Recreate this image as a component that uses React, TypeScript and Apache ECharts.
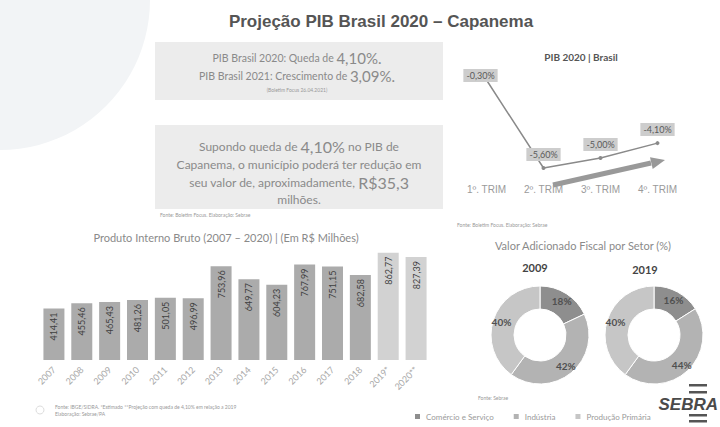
import React, { useEffect, useRef } from "react";
import * as echarts from "echarts";

const years = ["2007", "2008", "2009", "2010", "2011", "2012", "2013", "2014", "2015", "2016", "2017", "2018", "2019*", "2020**"];
const pibCapanema = [414.41, 455.46, 465.43, 481.26, 501.05, 496.99, 753.96, 649.77, 604.23, 767.99, 751.15, 682.58, 862.77, 827.39];
const quarters = ["1º. TRIM", "2º. TRIM", "3º. TRIM", "4º. TRIM"];
const pibBrasil2020 = [-0.3, -5.6, -5.0, -4.1];
const sectors = ["Comércio e Serviço", "Indústria", "Produção Primária"];
const vaf2009 = [18, 42, 40];
const vaf2019 = [16, 44, 40];

const sectorColors = ["#8e8e8e", "#b3b3b3", "#c6c6c6"];
const FONT = "Lato, 'Open Sans', sans-serif";
const br = (v: number) => v.toFixed(2).replace(".", ",");

export default function App() {
  const ref = useRef<HTMLDivElement>(null);
  useEffect(() => {
    if (!ref.current) return;
    const chart = echarts.init(ref.current, null, { renderer: "svg" });

    const pieData = (vals: number[]) =>
      vals.map((v, i) => ({ name: sectors[i], value: v, itemStyle: { color: sectorColors[i] } }));

    const richSmall = (size: number) => ({ fontSize: size, fill: "#8a8a8a", fontFamily: FONT });

    const option: any = {
      animation: false,
      backgroundColor: "#ffffff",
      textStyle: { fontFamily: FONT },
      grid: [
        { left: 40, right: 290, top: 248, bottom: 67, containLabel: false },
        { left: 458, right: 34, top: 75, bottom: 249, containLabel: false },
      ],
      xAxis: [
        {
          type: "category",
          gridIndex: 0,
          data: years,
          axisLine: { show: false },
          axisTick: { show: false },
          axisLabel: { rotate: 45, color: "#a8a8a8", fontSize: 9, fontFamily: FONT, margin: 8 },
        },
        {
          type: "category",
          gridIndex: 1,
          data: quarters,
          axisLine: { show: false },
          axisTick: { show: false },
          axisLabel: { color: "#9a9a9a", fontSize: 10, fontFamily: "'Liberation Sans', sans-serif", margin: 6 },
        },
      ],
      yAxis: [
        { type: "value", gridIndex: 0, min: 0, max: 900, show: false, splitLine: { show: false } },
        { type: "value", gridIndex: 1, min: -6.2, max: 0, show: false, splitLine: { show: false } },
      ],
      legend: {
        data: sectors,
        left: 408,
        top: 407,
        icon: "rect",
        itemWidth: 7,
        itemHeight: 7,
        itemGap: 18,
        textStyle: { color: "#9a9a9a", fontSize: 8, fontFamily: FONT },
      },
      series: [
        {
          type: "bar",
          xAxisIndex: 0,
          yAxisIndex: 0,
          barWidth: 21,
          data: pibCapanema.map((v, i) => ({
            value: v,
            itemStyle: { color: i >= 12 ? "#d2d2d2" : "#ababab" },
          })),
          label: {
            show: true,
            position: "insideTop",
            rotate: 90,
            align: "right",
            verticalAlign: "middle",
            distance: 4,
            color: "#3f3f3f",
            fontSize: 9,
            fontFamily: FONT,
            formatter: (p: any) => br(p.value),
          },
        },
        {
          type: "line",
          xAxisIndex: 1,
          yAxisIndex: 1,
          data: pibBrasil2020,
          symbol: "circle",
          symbolSize: 4,
          lineStyle: { color: "#8a8a8a", width: 1.5 },
          itemStyle: { color: "#8a8a8a" },
          label: {
            show: true,
            position: "top",
            distance: 5,
            color: "#5a5a5a",
            fontSize: 9,
            fontFamily: FONT,
            backgroundColor: "#cdcdcd",
            padding: [2, 3],
            formatter: (p: any) => br(p.value) + "%",
          },
          labelLayout: (params: any) => (params.dataIndex === 0 ? { dx: -6, dy: 9 } : {}),
        },
        {
          type: "pie",
          radius: [26, 49],
          center: [540, 335],
          startAngle: 90,
          data: pieData(vaf2009),
          itemStyle: { borderColor: "#ffffff", borderWidth: 1 },
          label: { show: true, position: "inside", formatter: "{c}%", color: "#505050", fontSize: 10, fontWeight: "bold", fontFamily: FONT },
          labelLine: { show: false },
        },
        {
          type: "pie",
          radius: [26, 49],
          center: [654, 335],
          startAngle: 90,
          data: pieData(vaf2019),
          itemStyle: { borderColor: "#ffffff", borderWidth: 1 },
          label: { show: true, position: "inside", formatter: "{c}%", color: "#505050", fontSize: 10, fontWeight: "bold", fontFamily: FONT },
          labelLine: { show: false },
        },
      ],
      graphic: [
        { type: "circle", z: -10, shape: { cx: 0, cy: 0, r: 150 }, style: { fill: "#f2f4f6" }, silent: true },
        {
          type: "text",
          x: 381,
          y: 21,
          style: {
            text: "Projeção PIB Brasil 2020 – Capanema",
            font: "bold 17px 'Liberation Sans', Arial, sans-serif",
            fill: "#555555",
            align: "center",
            verticalAlign: "middle",
          },
        },
        { type: "rect", z: -5, shape: { x: 155, y: 42, width: 288, height: 58 }, style: { fill: "#ececec" } },
        { type: "rect", z: -5, shape: { x: 155, y: 125, width: 288, height: 84 }, style: { fill: "#ececec" } },
        {
          type: "text",
          x: 297,
          y: 58,
          style: {
            text: "{a|PIB Brasil 2020: Queda de }{b|4,10%.}",
            align: "center",
            verticalAlign: "middle",
            rich: { a: richSmall(10.5), b: richSmall(15) },
          },
        },
        {
          type: "text",
          x: 297,
          y: 76,
          style: {
            text: "{a|PIB Brasil 2021: Crescimento de }{b|3,09%.}",
            align: "center",
            verticalAlign: "middle",
            rich: { a: richSmall(10.5), b: richSmall(15) },
          },
        },
        {
          type: "text",
          x: 297,
          y: 90,
          style: { text: "(Boletim Focus 26.04.2021)", font: "5px " + FONT, fill: "#999", align: "center", verticalAlign: "middle" },
        },
        {
          type: "text",
          x: 299,
          y: 146,
          style: {
            text: "{a|Supondo queda de }{b|4,10%}{a| no PIB de}",
            align: "center",
            verticalAlign: "middle",
            rich: { a: richSmall(12), b: richSmall(16) },
          },
        },
        {
          type: "text",
          x: 299,
          y: 164,
          style: { text: "Capanema, o município poderá ter redução em", font: "12px " + FONT, fill: "#8a8a8a", align: "center", verticalAlign: "middle" },
        },
        {
          type: "text",
          x: 299,
          y: 182,
          style: {
            text: "{a|seu valor de, aproximadamente, }{b|R$35,3}",
            align: "center",
            verticalAlign: "middle",
            rich: { a: richSmall(12), b: richSmall(16) },
          },
        },
        {
          type: "text",
          x: 299,
          y: 199,
          style: { text: "milhões.", font: "12px " + FONT, fill: "#8a8a8a", align: "center", verticalAlign: "middle" },
        },
        {
          type: "text",
          x: 160,
          y: 215,
          style: { text: "Fonte: Boletim Focus. Elaboração: Sebrae", font: "5px " + FONT, fill: "#999", verticalAlign: "middle" },
        },
        {
          type: "text",
          x: 581,
          y: 57,
          style: { text: "PIB 2020 | Brasil", font: "bold 10px " + FONT, fill: "#555", align: "center", verticalAlign: "middle" },
        },
        { type: "line", shape: { x1: 553, y1: 185, x2: 651, y2: 163 }, style: { stroke: "#999", lineWidth: 5 } },
        {
          type: "polygon",
          shape: { points: [[665, 160], [652.7, 169], [650, 157.2]] },
          style: { fill: "#999" },
        },
        {
          type: "text",
          x: 457,
          y: 225,
          style: { text: "Fonte: Boletim Focus. Elaboração: Sebrae", font: "5px " + FONT, fill: "#999", verticalAlign: "middle" },
        },
        {
          type: "text",
          x: 226,
          y: 237,
          style: { text: "Produto Interno Bruto (2007 – 2020) | (Em R$ Milhões)", font: "11px " + FONT, fill: "#8a8a8a", align: "center", verticalAlign: "middle" },
        },
        {
          type: "text",
          x: 583,
          y: 245,
          style: { text: "Valor Adicionado Fiscal por Setor (%)", font: "11px " + FONT, fill: "#8a8a8a", align: "center", verticalAlign: "middle" },
        },
        {
          type: "text",
          x: 535,
          y: 267,
          style: { text: "2009", font: "bold 11px " + FONT, fill: "#444", align: "center", verticalAlign: "middle" },
        },
        {
          type: "text",
          x: 645,
          y: 269,
          style: { text: "2019", font: "bold 11px " + FONT, fill: "#444", align: "center", verticalAlign: "middle" },
        },
        {
          type: "text",
          x: 478,
          y: 398,
          style: { text: "Fonte: Sebrae", font: "5px " + FONT, fill: "#999", verticalAlign: "middle" },
        },
        { type: "circle", shape: { cx: 40, cy: 410, r: 4 }, style: { fill: "none", stroke: "#ddd", lineWidth: 1 } },
        {
          type: "text",
          x: 55,
          y: 407,
          style: { text: "Fonte: IBGE/SIDRA. *Estimado **Projeção com queda de 4,10% em relação a 2019", font: "5px " + FONT, fill: "#999", verticalAlign: "middle" },
        },
        {
          type: "text",
          x: 55,
          y: 414,
          style: { text: "Elaboração: Sebrae/PA", font: "5px " + FONT, fill: "#999", verticalAlign: "middle" },
        },
        { type: "rect", shape: { x: 689, y: 384, width: 18, height: 2.5 }, style: { fill: "#555" } },
        { type: "rect", shape: { x: 689, y: 391, width: 18, height: 2.5 }, style: { fill: "#555" } },
        {
          type: "text",
          x: 718,
          y: 404,
          style: { text: "SEBRA", font: "italic bold 17px 'Liberation Sans', Arial, sans-serif", fill: "#4a4a4a", align: "right", verticalAlign: "middle" },
        },
        { type: "rect", shape: { x: 689, y: 414, width: 18, height: 2.5 }, style: { fill: "#555" } },
        { type: "rect", shape: { x: 689, y: 420, width: 18, height: 2.5 }, style: { fill: "#555" } },
      ],
    };

    chart.setOption(option);
    return () => chart.dispose();
  }, []);

  return <div ref={ref} style={{ position: "fixed", left: 0, top: 0, width: 720, height: 427 }} />;
}
